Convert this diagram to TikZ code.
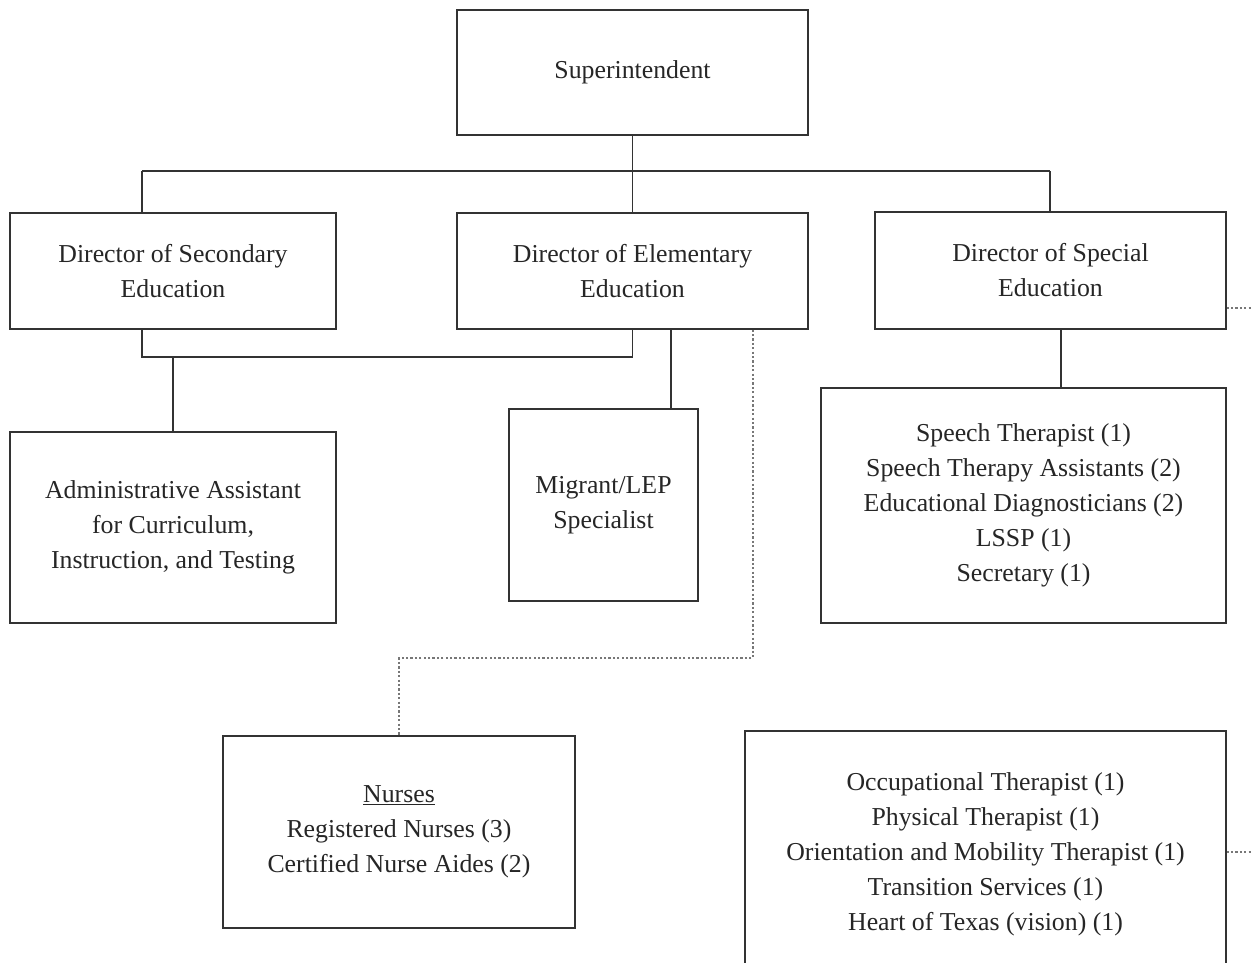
\documentclass[tikz,border=0pt]{standalone}
\usepackage{fontspec}
\setmainfont{Liberation Serif}
\definecolor{ink}{HTML}{333333}
\definecolor{dots}{HTML}{777777}
\begin{document}
\begin{tikzpicture}[x=1pt,y=-1pt,
  box/.style={draw=ink,line width=1.2pt,rectangle,inner sep=0pt,align=center,
    font=\fontsize{25.8}{35}\selectfont,text=black!85},
  link/.style={draw=ink,line width=1.1pt},
  dotline/.style={draw=dots,line width=1.3pt,dash pattern=on 2.2pt off 2.2pt}]
\useasboundingbox (0,0) rectangle (1252,963);
\clip (0,0) rectangle (1252,963);
\fill[white] (0,0) rectangle (1252,963);

% boxes
\node[box,minimum width=351,minimum height=125] (sup) at (632.5,72.5) {Superintendent};
\node[box,minimum width=326,minimum height=116] (sec) at (173,271) {Director of Secondary\\Education};
\node[box,minimum width=351,minimum height=116] (ele) at (632.5,271) {Director of Elementary\\Education};
\node[box,minimum width=351,minimum height=117] (spe) at (1050.5,270.5) {Director of Special\\Education};
\node[box,minimum width=326,minimum height=191] (adm) at (173,527.5) {Administrative Assistant\\for Curriculum,\\Instruction, and Testing};
\node[box,minimum width=189,minimum height=192] (mig) at (603.5,505) {Migrant/LEP\\Specialist};
\node[box,minimum width=405,minimum height=235] (sps) at (1023.5,505.5) {Speech Therapist (1)\\Speech Therapy Assistants (2)\\Educational Diagnosticians (2)\\LSSP (1)\\Secretary (1)};
\node[box,minimum width=352,minimum height=192] (nur) at (399,832) {\underline{Nurses}\\Registered Nurses (3)\\Certified Nurse Aides (2)};
\node[box,minimum width=481,minimum height=246] (rel) at (985.5,854) {Occupational Therapist (1)\\Physical Therapist (1)\\Orientation and Mobility Therapist (1)\\Transition Services (1)\\Heart of Texas (vision) (1)};

% junction points
\coordinate (bl) at (142,171);
\coordinate (br) at (1050,171);
\coordinate (s1) at (142,357);
\coordinate (e1) at (632.5,357);
\coordinate (m1) at (671,409);
\coordinate (p1) at (1061,388);
\coordinate (d1) at (753,658);
\coordinate (r1) at (1252,308);
\coordinate (r2) at (1252,852);

% superintendent to directors
\draw[link] (sup.south) -- (sup.south |- bl);
\draw[link] (bl) -- (br);
\draw[link] (bl) -- (bl |- sec.north);
\draw[link] (sup.south |- bl) -- (ele.north);
\draw[link] (br) -- (br |- spe.north);

% directors to staff
\draw[link] (s1 |- sec.south) -- (s1) -- (e1) -- (e1 |- ele.south);
\draw[link] (adm.north |- s1) -- (adm.north);
\draw[link] (m1 |- ele.south) -- (m1);
\draw[link] (p1 |- spe.south) -- (p1);

% dotted reporting lines
\draw[dotline] (d1 |- ele.south) -- (d1) -| (nur.north);
\draw[dotline] (spe.east |- r1) -- (r1);
\draw[dotline] (rel.east |- r2) -- (r2);
\end{tikzpicture}
\end{document}
